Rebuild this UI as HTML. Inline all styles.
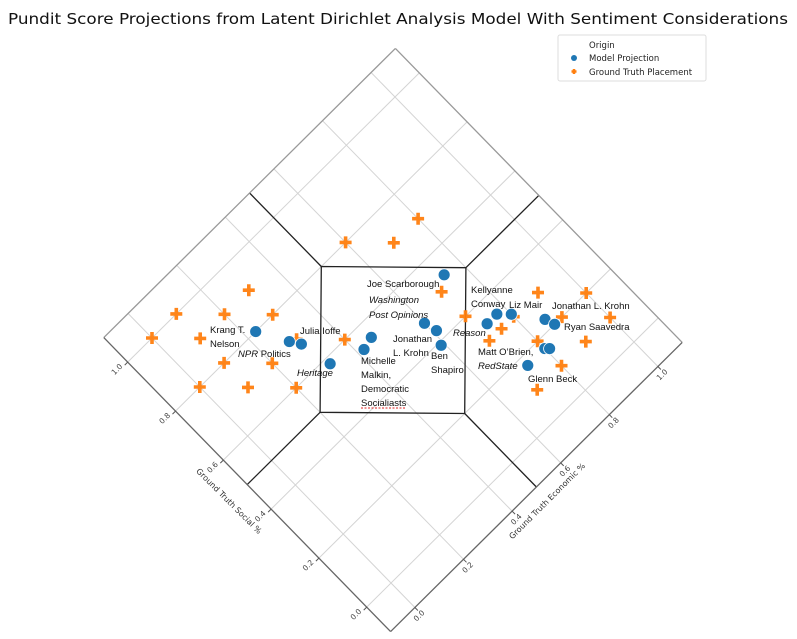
<!DOCTYPE html>
<html><head><meta charset="utf-8"><style>
html,body{margin:0;padding:0;background:#fff;}
svg{display:block;font-family:"DejaVu Sans","Liberation Sans",sans-serif;}
.lbl{font-family:"Liberation Sans",sans-serif;font-size:9.5px;fill:#111;}
.it{font-style:italic;}
</style></head><body>
<svg id="chart" width="797" height="639" viewBox="0 0 797 639">
<text x="8" y="24" font-size="15.5" fill="#111" textLength="780" lengthAdjust="spacingAndGlyphs">Pundit Score Projections from Latent Dirichlet Analysis Model With Sentiment Considerations</text>
<g id="grid"></g>
<g id="regions"></g>
<g id="axes"></g>
<g id="marks"></g>
<g id="labels">
<text class="lbl" x="210" y="333">Krang T.</text>
<text class="lbl" x="210" y="347">Nelson</text>
<text class="lbl" x="300" y="334">Julia Ioffe</text>
<text class="lbl" x="238" y="357"><tspan class="it">NPR</tspan> Politics</text>
<text class="lbl it" x="297" y="376">Heritage</text>
<text class="lbl" x="367" y="287">Joe Scarborough</text>
<text class="lbl it" x="369" y="303">Washington</text>
<text class="lbl it" x="369" y="318">Post Opinions</text>
<text class="lbl" x="393" y="342">Jonathan</text>
<text class="lbl" x="393" y="356">L. Krohn</text>
<text class="lbl" x="431" y="359">Ben</text>
<text class="lbl" x="431" y="373">Shapiro</text>
<text class="lbl" x="361" y="364">Michelle</text>
<text class="lbl" x="361" y="378">Malkin,</text>
<text class="lbl" x="361" y="392">Democratic</text>
<text class="lbl" x="361" y="406">Socialiasts</text>
<line x1="361" y1="408" x2="405" y2="408" stroke="#d22" stroke-width="1" stroke-dasharray="2,1.5"/>
<text class="lbl" x="471" y="293">Kellyanne</text>
<text class="lbl" x="471" y="307">Conway</text>
<text class="lbl" x="509" y="308">Liz Mair</text>
<text class="lbl it" x="453" y="336">Reason</text>
<text class="lbl" x="552" y="309">Jonathan L. Krohn</text>
<text class="lbl" x="564" y="330">Ryan Saavedra</text>
<text class="lbl" x="478" y="355">Matt O’Brien,</text>
<text class="lbl it" x="478" y="369">RedState</text>
<text class="lbl" x="528" y="382">Glenn Beck</text>
</g>
<g id="legend">
<rect x="558" y="35" width="148" height="46" rx="2" fill="#fff" stroke="#ddd"/>
<text x="589" y="48" font-size="8.5" fill="#222">Origin</text>
<circle cx="574" cy="58" r="3" fill="#1f77b4"/>
<text x="589" y="61" font-size="8.5" fill="#222">Model Projection</text>
<path d="M571.5 71.5h5M574 69v5" stroke="#ff7f0e" stroke-width="2.5"/>
<text x="589" y="75" font-size="8.5" fill="#222">Ground Truth Placement</text>
</g>
</svg>
<script>
const tickVals = [0.0, 0.2, 0.4, 0.6, 0.8, 1.0];
const tickLabels = ["0.0", "0.2", "0.4", "0.6", "0.8", "1.0"];
const truthSocial = [0.70,0.80,0.70,0.90,1.00,0.90,0.80,1.00,0.90,0.70,0.60,0.80,0.70,0.80,0.70,0.60,0.50,0.40,0.30,0.20,0.30,0.20,0.10,0.30,0.30,0.20,0.10,0.10,0.10];
const truthEcon   = [0.80,0.60,0.70,0.30,0.10,0.20,0.30,0.00,0.10,0.30,0.40,0.10,0.20,0.00,0.10,0.20,0.70,0.70,0.90,1.00,0.80,0.90,1.00,0.75,0.70,0.80,0.90,0.80,0.70];
const modelSocial = [0.80,0.71,0.68,0.58,0.55,0.54,0.53,0.47,0.43,0.39,0.34,0.34,0.31,0.23,0.20,0.17,0.16,0.17];
const modelEcon   = [0.23,0.28,0.30,0.32,0.46,0.42,0.74,0.60,0.61,0.59,0.73,0.77,0.80,0.86,0.87,0.80,0.81,0.73];
const regionCorners = [[0.8,0.5],[0.5,0.8],[0.2,0.5],[0.5,0.2]];
const regionSpokes = [[0.8,0.5,1.1,0.5],[0.5,0.8,0.5,1.1],[0.2,0.5,-0.1,0.5],[0.5,0.2,0.5,-0.1]];

const NS="http://www.w3.org/2000/svg";
const O=[391,583], A=[-239,-245], B=[243,-241], MIN=-0.1, MAX=1.1;
function px(s,e){return [O[0]+s*A[0]+e*B[0], O[1]+s*A[1]+e*B[1]];}
function mk(tag,attrs,parent){const el=document.createElementNS(NS,tag);for(const k in attrs)el.setAttribute(k,attrs[k]);parent.appendChild(el);return el;}
const grid=document.getElementById('grid'), axes=document.getElementById('axes'), marks=document.getElementById('marks'), regions=document.getElementById('regions');

tickVals.forEach(v=>{
  let p1=px(v,MIN),p2=px(v,MAX);
  let g1=mk('line',{x1:p1[0],y1:p1[1],x2:p2[0],y2:p2[1],stroke:'#d4d4d4','stroke-width':1},grid);
  
  
  p1=px(MIN,v);p2=px(MAX,v);
  let g2=mk('line',{x1:p1[0],y1:p1[1],x2:p2[0],y2:p2[1],stroke:'#d4d4d4','stroke-width':1},grid);
  
  
});
const cB=px(MIN,MIN),cL=px(MAX,MIN),cT=px(MAX,MAX),cR=px(MIN,MAX);
[[cL,cT,'#999'],[cT,cR,'#999'],[cB,cL,'#666'],[cB,cR,'#666']].forEach(([p,q,c])=>{
  const l=mk('line',{x1:p[0],y1:p[1],x2:q[0],y2:q[1],stroke:c,'stroke-width':1.3},axes);
  
  
});
const pts=regionCorners.map(c=>px(c[0],c[1]).join(',')).join(' ');
const poly=mk('polygon',{points:pts,fill:'none',stroke:'#222','stroke-width':1.3},regions);


regionSpokes.forEach(r=>{
  const p=px(r[0],r[1]),q=px(r[2],r[3]);
  const l=mk('line',{x1:p[0],y1:p[1],x2:q[0],y2:q[1],stroke:'#222','stroke-width':1.3},regions);
  
  
});
tickVals.forEach((v,i)=>{
  const p=px(v,MIN);
  const t=mk('line',{x1:p[0],y1:p[1],x2:p[0]-3,y2:p[1]+3,stroke:'#555'},axes);
  
  
  const tx=mk('text',{x:p[0]-9,y:p[1]+9,'font-size':7.5,fill:'#444','text-anchor':'middle',transform:`rotate(-45 ${p[0]-9} ${p[1]+9})`},axes);
  tx.textContent=tickLabels[i];
  
  
  const q=px(MIN,v);
  const t2=mk('line',{x1:q[0],y1:q[1],x2:q[0]+3,y2:q[1]+3,stroke:'#555'},axes);
  
  
  const tx2=mk('text',{x:q[0]+6,y:q[1]+10,'font-size':7.5,fill:'#444','text-anchor':'middle',transform:`rotate(-45 ${q[0]+6} ${q[1]+10})`},axes);
  tx2.textContent=tickLabels[i];
  
  
});
const at1=mk('text',{x:227,y:503,'font-size':8,fill:'#333','text-anchor':'middle',transform:'rotate(45 227 503)'},axes);
at1.textContent='Ground Truth Social %';


const at2=mk('text',{x:549,y:503,'font-size':8,fill:'#333','text-anchor':'middle',transform:'rotate(-45 549 503)'},axes);
at2.textContent='Ground Truth Economic %';


truthSocial.forEach((s,i)=>{
  const p=px(s,truthEcon[i]);
  const c=mk('path',{d:`M${p[0]-6} ${p[1]}h12M${p[0]} ${p[1]-6}v12`,stroke:'#ff7f0e','stroke-width':3.6,opacity:0.95},marks);
  
  
});
modelSocial.forEach((s,i)=>{
  const p=px(s,modelEcon[i]);
  const c=mk('circle',{cx:p[0],cy:p[1],r:6,fill:'#1f77b4',stroke:'#fff','stroke-width':0.8},marks);
  
  
});
</script>
</body></html>
